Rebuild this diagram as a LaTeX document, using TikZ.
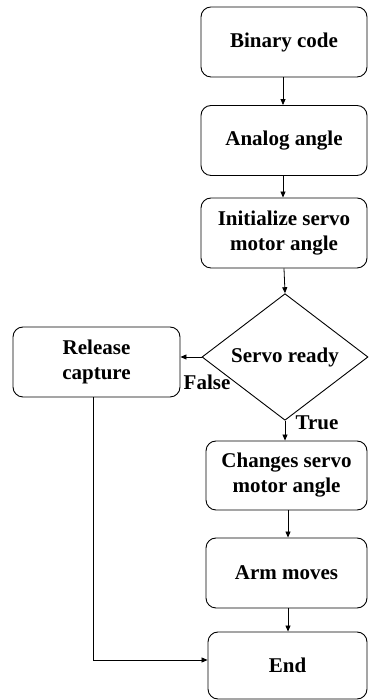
\documentclass[tikz,border=0pt]{standalone}
\usepackage{fontspec}
\setmainfont{Liberation Serif}
\usetikzlibrary{shapes.geometric,arrows.meta}
\tikzset{
  flowbox/.style={draw, rounded corners=10pt, line width=0.9pt, align=center,
    minimum width=166pt, minimum height=70pt, inner sep=0pt},
  decision/.style={draw, diamond, line width=0.9pt, align=center,
    minimum width=166pt, minimum height=105pt, inner sep=0pt},
  arr/.style={line width=0.8pt, -{Triangle[length=6pt,width=5pt]}},
  lbl/.style={inner sep=0pt}
}
\begin{document}
\begin{tikzpicture}[x=1pt,y=1pt,font=\fontsize{21}{25}\selectfont\bfseries]
\useasboundingbox (0,0) rectangle (368,700);
\node[flowbox] (bin) at (284,658) {Binary code};
\node[flowbox] (ana) at (284,559.5) {Analog angle};
\node[flowbox] (ini) at (284,467) {Initialize servo\\motor angle};
\node[decision] (srv) at (285,343) {Servo ready};
\node[flowbox, minimum width=167pt] (rel) at (96.5,338) {Release\\capture};
\node[flowbox, minimum width=161pt, minimum height=69pt] (chg) at (286.5,224.5) {Changes servo\\motor angle};
\node[flowbox, minimum width=161pt] (arm) at (286.5,127) {Arm moves};
\node[flowbox, minimum width=159pt, minimum height=67pt] (end) at (287.5,34.5) {End};
\node[lbl] (f) at (207,318) {False};
\node[lbl] (t) at (317,277) {True};
\draw[arr] (bin.south -| 283,0) -- (ana.north -| 283,0);
\draw[arr] (ana.south -| 283,0) -- (ini.north -| 283,0);
\draw[arr] (ini.south -| 284,0) -- (srv.north);
\draw[arr] (srv.west) -- (srv.west -| rel.east);
\draw[arr] (srv.south) -- (srv.south |- chg.north);
\draw[arr] (chg.south -| 288,0) -- (arm.north -| 288,0);
\draw[arr] (arm.south -| 288,0) -- (end.north -| 288,0);
\draw[arr] (rel.south -| 93,0) |- ([yshift=5.5pt]end.west);
\end{tikzpicture}
\end{document}
